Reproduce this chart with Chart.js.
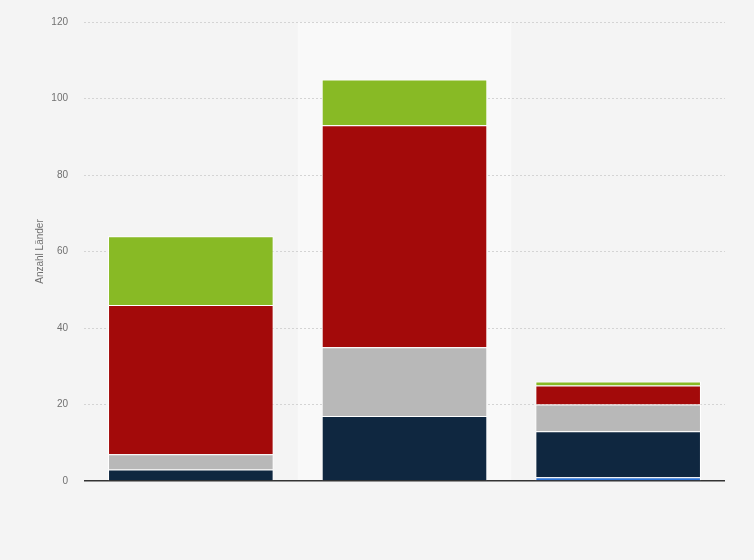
<!DOCTYPE html>
<html>
<head>
<meta charset="utf-8">
<script src="https://cdn.jsdelivr.net/npm/chart.js@4"></script>
<style>
  html, body { margin: 0; padding: 0; background: #f4f4f4; }
  #wrap { width: 754px; height: 560px; }
</style>
</head>
<body>
<div id="wrap"><canvas id="grafica"></canvas></div>
<script>
// Datos
var categorias = ['Gruppe 1', 'Gruppe 2', 'Gruppe 3'];
var serieAzul = [null, null, 1];
var serieMarino = [3, 17, 12];
var serieGris = [4, 18, 7];
var serieRojo = [39, 58, 5];
var serieVerde = [18, 12, 1];
var ticksY = [0, 20, 40, 60, 80, 100, 120];
var indiceResaltado = 1;

// Fondo claro en la columna resaltada
var resaltado = {
    id: 'resaltado',
    beforeDraw: function (chart) {
        var x = chart.scales.x, area = chart.chartArea, ctx = chart.ctx;
        var ancho = (area.right - area.left) / categorias.length;
        var centro = x.getPixelForValue(indiceResaltado);
        ctx.save();
        ctx.fillStyle = '#f9f9f9';
        ctx.fillRect(centro - ancho / 2, area.top, ancho, area.bottom - area.top);
        ctx.restore();
    }
};

function serie(label, data, color) {
    return {
        label: label,
        data: data,
        backgroundColor: color,
        borderColor: '#ffffff',
        borderWidth: 1,
        borderSkipped: 'start',
        barPercentage: 0.775,
        categoryPercentage: 1
    };
}

var ctx = document.getElementById('grafica').getContext('2d');
var grafica = new Chart(ctx, {
    type: 'bar',
    data: {
        labels: categorias,
        datasets: [
            serie('Serie 1', serieAzul, '#2f74d6'),
            serie('Serie 2', serieMarino, '#0f2740'),
            serie('Serie 3', serieGris, '#b8b8b8'),
            serie('Serie 4', serieRojo, '#a30a0a'),
            serie('Serie 5', serieVerde, '#88ba25')
        ]
    },
    options: {
        responsive: true,
        maintainAspectRatio: false,
        animation: false,
        layout: { padding: { left: 30, right: 29, top: 20, bottom: 79 } },
        scales: {
            x: {
                stacked: true,
                display: false
            },
            y: {
                stacked: true,
                min: 0,
                max: 120,
                afterBuildTicks: function (s) { s.ticks = ticksY.map(function (v) { return { value: v }; }); },
                afterFit: function (s) { s.width = 54; },
                grid: {
                    drawTicks: false,
                    color: function (c) { return c.tick && c.tick.value === 0 ? '#333333' : '#d4d4d4'; },
                    lineWidth: function (c) { return c.tick && c.tick.value === 0 ? 1.5 : 1; }
                },
                border: {
                    display: false,
                    dash: function (c) { return c.tick && c.tick.value === 0 ? [] : [2, 2]; }
                },
                ticks: {
                    padding: 16,
                    color: '#707070',
                    font: { family: 'Liberation Sans', size: 10 }
                },
                title: {
                    display: true,
                    text: 'Anzahl Länder',
                    color: '#707070',
                    font: { family: 'Liberation Sans', size: 10 }
                }
            }
        },
        plugins: {
            legend: { display: false },
            tooltip: { enabled: false }
        }
    },
    plugins: [resaltado]
});
</script>
</body>
</html>
